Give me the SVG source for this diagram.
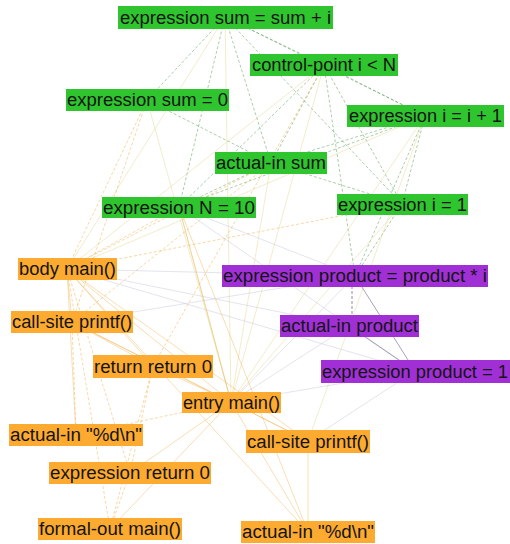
<svg xmlns="http://www.w3.org/2000/svg" width="510" height="544" viewBox="0 0 510 544">
<style>
.bg{fill:#ffffff}
.e line{stroke-width:0.8;fill:none}
.g{stroke:#3f8f3f;stroke-dasharray:3 2;opacity:.55}
.o{stroke:#f0ac40;opacity:.5}
.od{stroke:#f0ac40;stroke-dasharray:3 2;opacity:.6}
.y{stroke:#e4d890;opacity:.6}
.gr{stroke:#c4c6dc;opacity:.6}
.p{stroke:#4a3a6a;stroke-dasharray:3 2;opacity:.75}
.pn{stroke:#4a3a6a;opacity:.6}
.G rect{fill:#2ec52e}
.O rect{fill:#fdaa30}
.P rect{fill:#a030d6}
text{font-family:"Liberation Sans",Arial,sans-serif;font-size:18px;fill:#141414}
</style>
<rect class="bg" x="0" y="0" width="510" height="544"/>
<g id="connectors" class="e">
<line class="g" x1="225" y1="17" x2="147" y2="100"/>
<line class="g" x1="225" y1="17" x2="271" y2="163"/>
<line class="g" x1="225" y1="17" x2="324" y2="65"/>
<line class="g" x1="225" y1="17" x2="179" y2="207"/>
<line class="g" x1="225" y1="17" x2="402" y2="204"/>
<line class="g" x1="225" y1="17" x2="425" y2="116"/>
<line class="g" x1="324" y1="65" x2="425" y2="116"/>
<line class="g" x1="324" y1="65" x2="271" y2="163"/>
<line class="g" x1="324" y1="65" x2="179" y2="207"/>
<line class="g" x1="324" y1="65" x2="402" y2="204"/>
<line class="g" x1="324" y1="65" x2="355" y2="276"/>
<line class="g" x1="147" y1="100" x2="271" y2="163"/>
<line class="g" x1="425" y1="116" x2="271" y2="163"/>
<line class="g" x1="425" y1="116" x2="179" y2="207"/>
<line class="g" x1="425" y1="116" x2="402" y2="204"/>
<line class="g" x1="425" y1="116" x2="355" y2="276"/>
<line class="g" x1="271" y1="163" x2="179" y2="207"/>
<line class="g" x1="271" y1="163" x2="402" y2="204"/>
<line class="g" x1="402" y1="204" x2="355" y2="276"/>
<line class="y" x1="225" y1="17" x2="67" y2="269"/>
<line class="y" x1="225" y1="17" x2="231" y2="402"/>
<line class="y" x1="324" y1="65" x2="67" y2="269"/>
<line class="y" x1="324" y1="65" x2="231" y2="402"/>
<line class="y" x1="147" y1="100" x2="231" y2="402"/>
<line class="y" x1="425" y1="116" x2="67" y2="269"/>
<line class="y" x1="425" y1="116" x2="231" y2="402"/>
<line class="y" x1="425" y1="116" x2="308" y2="441"/>
<line class="y" x1="402" y1="204" x2="231" y2="402"/>
<line class="y" x1="271" y1="163" x2="231" y2="402"/>
<line class="y" x1="179" y1="207" x2="231" y2="402"/>
<line class="od" x1="147" y1="100" x2="67" y2="269"/>
<line class="od" x1="271" y1="163" x2="67" y2="269"/>
<line class="od" x1="179" y1="207" x2="67" y2="269"/>
<line class="od" x1="402" y1="204" x2="67" y2="269"/>
<line class="od" x1="271" y1="163" x2="72" y2="322"/>
<line class="od" x1="324" y1="65" x2="153" y2="366"/>
<line class="od" x1="147" y1="100" x2="72" y2="322"/>
<line class="gr" x1="67" y1="269" x2="355" y2="276"/>
<line class="gr" x1="67" y1="269" x2="349" y2="326"/>
<line class="gr" x1="67" y1="269" x2="415" y2="371"/>
<line class="gr" x1="179" y1="207" x2="355" y2="276"/>
<line class="gr" x1="179" y1="207" x2="415" y2="371"/>
<line class="gr" x1="72" y1="322" x2="355" y2="276"/>
<line class="gr" x1="231" y1="402" x2="415" y2="371"/>
<line class="gr" x1="308" y1="441" x2="415" y2="371"/>
<line class="gr" x1="231" y1="402" x2="355" y2="276"/>
<line class="gr" x1="231" y1="402" x2="349" y2="326"/>
<line class="o" x1="67" y1="269" x2="72" y2="322"/>
<line class="o" x1="67" y1="269" x2="76" y2="435"/>
<line class="o" x1="67" y1="269" x2="153" y2="366"/>
<line class="o" x1="67" y1="269" x2="231" y2="402"/>
<line class="o" x1="67" y1="269" x2="308" y2="441"/>
<line class="o" x1="67" y1="269" x2="308" y2="532"/>
<line class="od" x1="67" y1="269" x2="110" y2="529"/>
<line class="od" x1="67" y1="269" x2="130" y2="473"/>
<line class="o" x1="72" y1="322" x2="231" y2="402"/>
<line class="o" x1="72" y1="322" x2="153" y2="366"/>
<line class="od" x1="72" y1="322" x2="76" y2="435"/>
<line class="o" x1="72" y1="322" x2="308" y2="441"/>
<line class="od" x1="153" y1="366" x2="130" y2="473"/>
<line class="od" x1="153" y1="366" x2="110" y2="529"/>
<line class="o" x1="153" y1="366" x2="231" y2="402"/>
<line class="od" x1="231" y1="402" x2="76" y2="435"/>
<line class="o" x1="231" y1="402" x2="130" y2="473"/>
<line class="o" x1="231" y1="402" x2="110" y2="529"/>
<line class="o" x1="231" y1="402" x2="308" y2="441"/>
<line class="o" x1="231" y1="402" x2="308" y2="532"/>
<line class="od" x1="130" y1="473" x2="110" y2="529"/>
<line class="o" x1="308" y1="441" x2="308" y2="532"/>
<line class="o" x1="179" y1="207" x2="308" y2="532"/>
<line class="o" x1="179" y1="207" x2="231" y2="402"/>
<line class="p" x1="352" y1="276" x2="352" y2="326"/>
<line class="pn" x1="355" y1="276" x2="415" y2="371"/>
<line class="pn" x1="349" y1="326" x2="415" y2="371"/>
</g>
<g id="n1" class="G"><rect x="118" y="6" width="215" height="23"/><text x="120" y="24" textLength="211" lengthAdjust="spacingAndGlyphs">expression sum = sum + i</text></g>
<g id="n2" class="G"><rect x="250" y="54" width="148" height="22"/><text x="252" y="71" textLength="144" lengthAdjust="spacingAndGlyphs">control-point i &lt; N</text></g>
<g id="n3" class="G"><rect x="66" y="89" width="163" height="22"/><text x="67" y="106" textLength="161" lengthAdjust="spacingAndGlyphs">expression sum = 0</text></g>
<g id="n4" class="G"><rect x="347" y="105" width="157" height="22"/><text x="349" y="122" textLength="153" lengthAdjust="spacingAndGlyphs">expression i = i + 1</text></g>
<g id="n5" class="G"><rect x="215" y="152" width="112" height="22"/><text x="216" y="169" textLength="110" lengthAdjust="spacingAndGlyphs">actual-in sum</text></g>
<g id="n6" class="G"><rect x="102" y="197" width="154" height="21"/><text x="103" y="214" textLength="152" lengthAdjust="spacingAndGlyphs">expression N = 10</text></g>
<g id="n7" class="G"><rect x="337" y="194" width="131" height="21"/><text x="338" y="211" textLength="129" lengthAdjust="spacingAndGlyphs">expression i = 1</text></g>
<g id="n8" class="O"><rect x="18" y="258" width="99" height="22"/><text x="19" y="275" textLength="97" lengthAdjust="spacingAndGlyphs">body main()</text></g>
<g id="n9" class="P"><rect x="222" y="265" width="266" height="22"/><text x="223" y="282" textLength="264" lengthAdjust="spacingAndGlyphs">expression product = product * i</text></g>
<g id="n10" class="O"><rect x="11" y="311" width="122" height="22"/><text x="12" y="328" textLength="120" lengthAdjust="spacingAndGlyphs">call-site printf()</text></g>
<g id="n11" class="P"><rect x="280" y="315" width="139" height="22"/><text x="281" y="332" textLength="137" lengthAdjust="spacingAndGlyphs">actual-in product</text></g>
<g id="n12" class="O"><rect x="93" y="355" width="120" height="23"/><text x="94" y="373" textLength="118" lengthAdjust="spacingAndGlyphs">return return 0</text></g>
<g id="n13" class="P"><rect x="321" y="360" width="189" height="23"/><text x="322" y="378" textLength="186" lengthAdjust="spacingAndGlyphs">expression product = 1</text></g>
<g id="n14" class="O"><rect x="182" y="392" width="99" height="21"/><text x="183" y="409" textLength="97" lengthAdjust="spacingAndGlyphs">entry main()</text></g>
<g id="n15" class="O"><rect x="9" y="424" width="134" height="22"/><text x="10" y="441" textLength="132" lengthAdjust="spacingAndGlyphs">actual-in "%d\n"</text></g>
<g id="n16" class="O"><rect x="246" y="430" width="124" height="23"/><text x="247" y="448" textLength="122" lengthAdjust="spacingAndGlyphs">call-site printf()</text></g>
<g id="n17" class="O"><rect x="49" y="462" width="162" height="22"/><text x="50" y="479" textLength="160" lengthAdjust="spacingAndGlyphs">expression return 0</text></g>
<g id="n18" class="O"><rect x="38" y="518" width="144" height="22"/><text x="39" y="535" textLength="142" lengthAdjust="spacingAndGlyphs">formal-out main()</text></g>
<g id="n19" class="O"><rect x="241" y="521" width="134" height="22"/><text x="242" y="538" textLength="132" lengthAdjust="spacingAndGlyphs">actual-in "%d\n"</text></g>
</svg>
